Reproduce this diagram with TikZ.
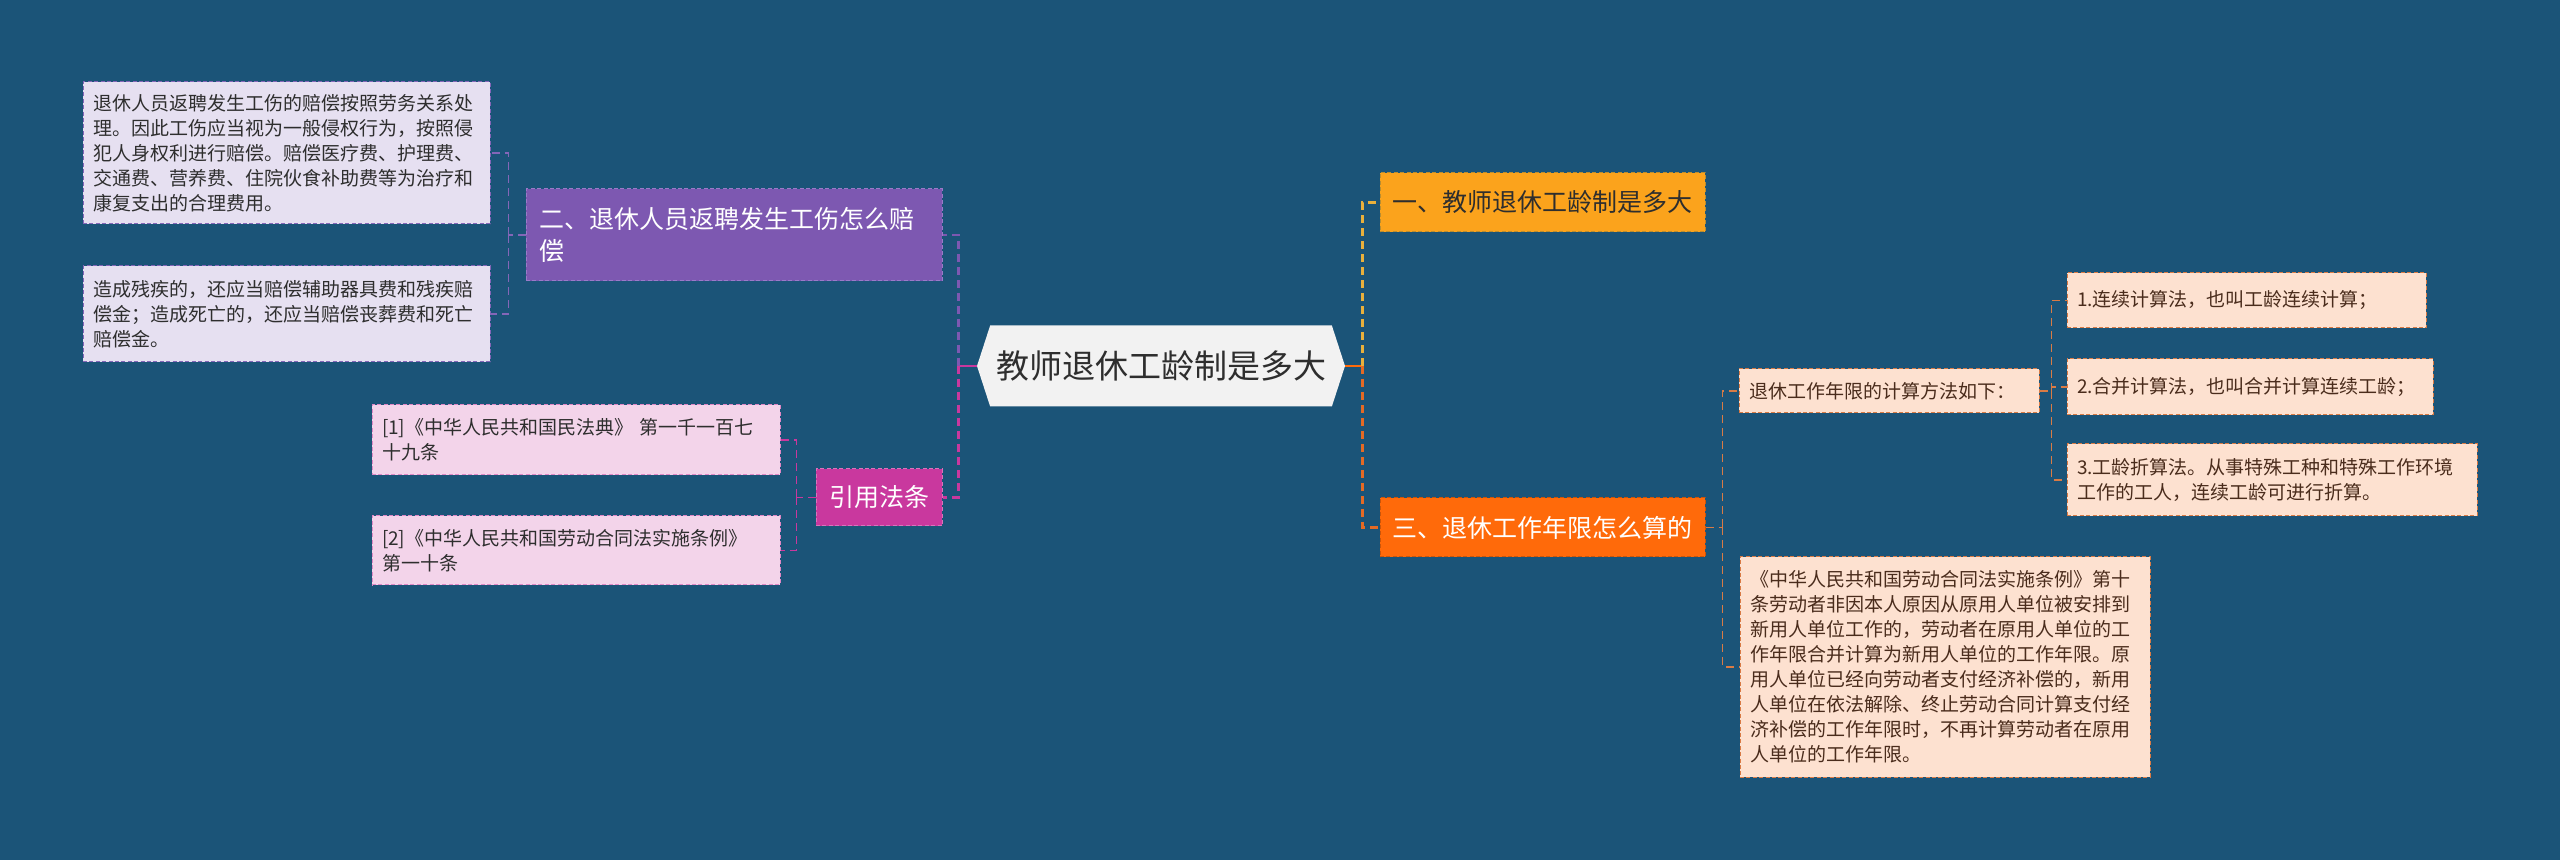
\documentclass[tikz,border=0pt]{standalone}
\usepackage{fontspec}
\setmainfont{Noto Sans CJK SC}
\usepackage{xcolor}
\usetikzlibrary{positioning,calc,shapes.symbols}
\definecolor{bgblue}{HTML}{1B5478}
\definecolor{hubfill}{HTML}{F2F2F2}
\definecolor{inkdark}{HTML}{2E2E2E}
\definecolor{lilac}{HTML}{7D58B1}
\definecolor{lilacedge}{HTML}{9A7BC8}
\definecolor{lilacpale}{HTML}{E6E0F1}
\definecolor{lilacline}{HTML}{8466B8}
\definecolor{rose}{HTML}{C9389E}
\definecolor{rosepale}{HTML}{F3D4EA}
\definecolor{amber}{HTML}{FBA31C}
\definecolor{amberline}{HTML}{E9B03C}
\definecolor{tangerine}{HTML}{FF6A0A}
\definecolor{tangline}{HTML}{E56A24}
\definecolor{peach}{HTML}{FDE1D0}
\definecolor{peachline}{HTML}{D97B45}
\definecolor{browntext}{HTML}{4A2C1C}

\begin{document}
\begin{tikzpicture}[x=0.5pt, y=-0.5pt, every node/.style={inner sep=0pt},
    leaf/.style={dashed, dash pattern=on 2pt off 1.2pt, line width=0.5pt, inner xsep=5pt, align=left, font=\fontsize{9.5}{12.5}\selectfont},
    branch/.style={dashed, dash pattern=on 2pt off 1.2pt, line width=0.5pt, align=center, font=\fontsize{12.5}{16}\selectfont},
    trunk/.style={dashed, dash pattern=on 4pt off 2.5pt, line width=1.2pt},
    twig/.style={dashed, dash pattern=on 4pt off 2.5pt, line width=0.9pt}]
  \fill[bgblue] (0,0) rectangle (2560,860);
  \useasboundingbox (0,0) rectangle (2560,860);

  % centre
  \node[signal, signal to=west and east, signal pointer angle=144, fill=hubfill, text=inkdark, minimum width=184pt, minimum height=40.5pt, font=\fontsize{16.5}{20}\selectfont] (hub) at (1161,366) {教师退休工龄制是多大};

  % left side
  \node[branch, fill=lilac, draw=lilacedge, text=white, align=left, inner xsep=6.5pt, text width=195pt, minimum height=46pt] (injury) at (734,235) {二、退休人员返聘发生工伤怎么赔\\偿};
  \node[leaf, fill=lilacpale, draw=lilacline, text=inkdark, text width=193.5pt, minimum height=71pt] (pay) at (286.5,153) {退休人员返聘发生工伤的赔偿按照劳务关系处\\理。因此工伤应当视为一般侵权行为，按照侵\\犯人身权利进行赔偿。赔偿医疗费、护理费、\\交通费、营养费、住院伙食补助费等为治疗和\\康复支出的合理费用。};
  \node[leaf, fill=lilacpale, draw=lilacline, text=inkdark, text width=193.5pt, minimum height=48pt] (death) at (286.5,314) {造成残疾的，还应当赔偿辅助器具费和残疾赔\\偿金；造成死亡的，还应当赔偿丧葬费和死亡\\赔偿金。};
  \node[branch, fill=rose, draw=rose!70!white, text=white, minimum width=63pt, minimum height=28.5pt] (cite) at (879,497.5) {引用法条};
  \node[leaf, fill=rosepale, draw=rose!60!white, text=inkdark, text width=194pt, minimum height=35pt] (ref1) at (576,440) {[1]《中华人民共和国民法典》 第一千一百七\\十九条};
  \node[leaf, fill=rosepale, draw=rose!60!white, text=inkdark, text width=194pt, minimum height=34.5pt] (ref2) at (576,550.5) {[2]《中华人民共和国劳动合同法实施条例》\\第一十条};

  % right side
  \node[branch, fill=amber, draw=amberline!80!black, text=inkdark, minimum width=162.5pt, minimum height=29.5pt] (scale) at (1542.5,202.5) {一、教师退休工龄制是多大};
  \node[branch, fill=tangerine, draw=tangerine!80!black, text=white, minimum width=162.5pt, minimum height=29.5pt] (years) at (1542.5,527.5) {三、退休工作年限怎么算的};
  \node[leaf, fill=peach, draw=peachline, text=browntext, text width=140pt, minimum height=22pt] (method) at (1889,391) {退休工作年限的计算方法如下：};
  \node[leaf, fill=peach, draw=peachline, text=browntext, text width=169.5pt, minimum height=27.5pt] (way1) at (2246.5,300.5) {1.连续计算法，也叫工龄连续计算；};
  \node[leaf, fill=peach, draw=peachline, text=browntext, text width=173pt, minimum height=28pt] (way2) at (2250,387) {2.合并计算法，也叫合并计算连续工龄；};
  \node[leaf, fill=peach, draw=peachline, text=browntext, text width=195pt, minimum height=36pt] (way3) at (2272,480) {3.工龄折算法。从事特殊工种和特殊工作环境\\工作的工人，连续工龄可进行折算。};
  \node[leaf, fill=peach, draw=peachline, text=browntext, text width=195pt, minimum height=110pt] (law) at (1945,667) {《中华人民共和国劳动合同法实施条例》第十\\条劳动者非因本人原因从原用人单位被安排到\\新用人单位工作的，劳动者在原用人单位的工\\作年限合并计算为新用人单位的工作年限。原\\用人单位已经向劳动者支付经济补偿的，新用\\人单位在依法解除、终止劳动合同计算支付经\\济补偿的工作年限时，不再计算劳动者在原用\\人单位的工作年限。};

  % connectors
  \coordinate (lj) at ($(hub.west)+(-18,0)$);
  \coordinate (rj) at ($(hub.east)+(17,0)$);
  \draw[line width=1.2pt, rose] (hub.west) -- (lj);
  \draw[trunk, lilac] (lj) |- (injury.east);
  \draw[trunk, rose] (lj) |- (cite.east);
  \draw[line width=1.2pt, tangerine] (hub.east) -- (rj);
  \draw[trunk, amberline] (rj) |- (scale.west);
  \draw[trunk, tangline] (rj) |- (years.west);

  \coordinate (ij) at ($(injury.west)+(-17,0)$);
  \draw[twig, lilacline] (injury.west) -- (ij);
  \foreach \x in {pay,death}{\draw[twig, lilacline] (ij) |- (\x.east);}
  \coordinate (cj) at ($(cite.west)+(-19,0)$);
  \draw[twig, rose] (cite.west) -- (cj);
  \foreach \x in {ref1,ref2}{\draw[twig, rose] (cj) |- (\x.east);}
  \coordinate (yj) at ($(years.east)+(17,0)$);
  \draw[twig, peachline] (years.east) -- (yj);
  \foreach \x in {method,law}{\draw[twig, peachline] (yj) |- (\x.west);}
  \coordinate (mj) at ($(method.east)+(12,0)$);
  \draw[twig, peachline] (method.east) -- (mj);
  \foreach \x in {way1,way2,way3}{\draw[twig, peachline] (mj) |- (\x.west);}
\end{tikzpicture}
\end{document}
